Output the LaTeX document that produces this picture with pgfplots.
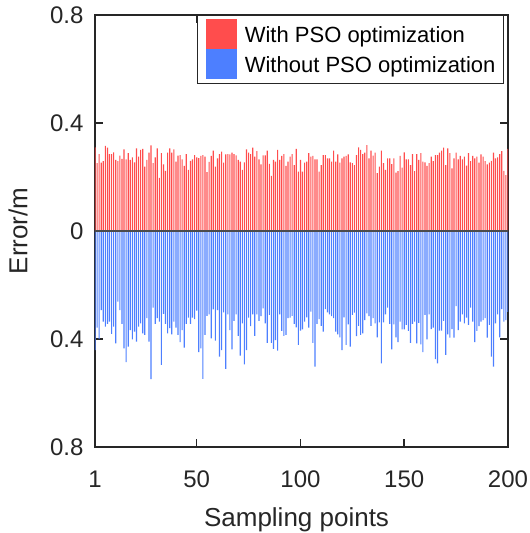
\documentclass[border=0pt]{standalone}
\usepackage{fontspec}
\setmainfont{Liberation Sans}
\usepackage{pgfplots}
\usepackage{pgfplotstable}
\pgfplotsset{compat=1.18}
\definecolor{pso}{RGB}{255,77,77}
\definecolor{nopso}{RGB}{77,127,255}
\definecolor{axgray}{RGB}{38,38,38}

\pgfplotstableread{
x r b
1 0.310 -0.441
2 0.251 -0.358
3 0.285 -0.400
4 0.253 -0.293
5 0.259 -0.336
6 0.315 -0.354
7 0.309 -0.344
8 0.285 -0.336
9 0.285 -0.381
10 0.291 -0.354
11 0.263 -0.416
12 0.259 -0.262
13 0.279 -0.293
14 0.267 -0.344
15 0.302 -0.435
16 0.265 -0.486
17 0.288 -0.428
18 0.263 -0.367
19 0.273 -0.401
20 0.254 -0.373
21 0.306 -0.410
22 0.275 -0.354
23 0.300 -0.342
24 0.304 -0.379
25 0.238 -0.385
26 0.263 -0.323
27 0.290 -0.410
28 0.317 -0.549
29 0.251 -0.284
30 0.273 -0.344
31 0.306 -0.323
32 0.197 -0.336
33 0.288 -0.496
34 0.247 -0.307
35 0.223 -0.344
36 0.290 -0.379
37 0.306 -0.360
38 0.290 -0.383
39 0.302 -0.336
40 0.257 -0.358
41 0.279 -0.385
42 0.281 -0.412
43 0.265 -0.367
44 0.241 -0.432
45 0.285 -0.344
46 0.226 -0.321
47 0.260 -0.344
48 0.265 -0.321
49 0.281 -0.326
50 0.273 -0.295
51 0.270 -0.449
52 0.278 -0.435
53 0.281 -0.548
54 0.275 -0.385
55 0.218 -0.314
56 0.256 -0.309
57 0.278 -0.398
58 0.298 -0.290
59 0.238 -0.406
60 0.269 -0.293
61 0.285 -0.465
62 0.294 -0.441
63 0.253 -0.301
64 0.284 -0.511
65 0.285 -0.309
66 0.284 -0.367
67 0.290 -0.438
68 0.285 -0.333
69 0.280 -0.309
70 0.263 -0.388
71 0.257 -0.462
72 0.226 -0.342
73 0.254 -0.494
74 0.302 -0.441
75 0.290 -0.321
76 0.285 -0.352
77 0.309 -0.309
78 0.275 -0.388
79 0.296 -0.309
80 0.265 -0.333
81 0.247 -0.315
82 0.280 -0.287
83 0.280 -0.342
84 0.298 -0.414
85 0.249 -0.311
86 0.204 -0.414
87 0.263 -0.437
88 0.257 -0.404
89 0.300 -0.443
90 0.263 -0.309
91 0.278 -0.370
92 0.285 -0.388
93 0.241 -0.385
94 0.257 -0.323
95 0.275 -0.321
96 0.285 -0.314
97 0.244 -0.344
98 0.304 -0.357
99 0.220 -0.422
100 0.263 -0.369
101 0.220 -0.364
102 0.253 -0.336
103 0.257 -0.320
104 0.288 -0.358
105 0.275 -0.299
106 0.278 -0.414
107 0.265 -0.502
108 0.265 -0.344
109 0.220 -0.326
110 0.244 -0.351
111 0.281 -0.373
112 0.281 -0.289
113 0.269 -0.301
114 0.269 -0.309
115 0.257 -0.315
116 0.298 -0.323
117 0.257 -0.373
118 0.284 -0.383
119 0.253 -0.394
120 0.269 -0.441
121 0.275 -0.320
122 0.278 -0.422
123 0.284 -0.346
124 0.254 -0.428
125 0.251 -0.311
126 0.244 -0.302
127 0.281 -0.389
128 0.310 -0.351
129 0.300 -0.385
130 0.285 -0.379
131 0.290 -0.330
132 0.318 -0.305
133 0.269 -0.315
134 0.298 -0.351
135 0.279 -0.323
136 0.290 -0.342
137 0.214 -0.394
138 0.238 -0.338
139 0.298 -0.490
140 0.251 -0.338
141 0.226 -0.309
142 0.269 -0.284
143 0.269 -0.344
144 0.248 -0.438
145 0.269 -0.346
146 0.216 -0.394
147 0.222 -0.412
148 0.278 -0.336
149 0.235 -0.364
150 0.291 -0.364
151 0.265 -0.348
152 0.265 -0.370
153 0.244 -0.414
154 0.285 -0.344
155 0.222 -0.336
156 0.285 -0.416
157 0.263 -0.340
158 0.288 -0.420
159 0.257 -0.449
160 0.254 -0.311
161 0.241 -0.401
162 0.251 -0.309
163 0.275 -0.363
164 0.259 -0.358
165 0.281 -0.475
166 0.281 -0.490
167 0.290 -0.369
168 0.298 -0.369
169 0.309 -0.333
170 0.244 -0.459
171 0.306 -0.383
172 0.288 -0.395
173 0.232 -0.363
174 0.269 -0.395
175 0.290 -0.278
176 0.265 -0.367
177 0.278 -0.336
178 0.265 -0.309
179 0.275 -0.342
180 0.242 -0.321
181 0.288 -0.348
182 0.259 -0.284
183 0.278 -0.336
184 0.269 -0.412
185 0.275 -0.370
186 0.253 -0.352
187 0.284 -0.336
188 0.275 -0.330
189 0.259 -0.323
190 0.247 -0.395
191 0.253 -0.348
192 0.260 -0.465
193 0.290 -0.502
194 0.269 -0.342
195 0.273 -0.309
196 0.285 -0.394
197 0.296 -0.289
198 0.223 -0.336
199 0.207 -0.330
200 0.304 -0.300
}\datatable

\begin{document}
\begin{tikzpicture}
\useasboundingbox (-95pt,-86pt) rectangle (435pt,447pt);
\begin{axis}[
  at={(0pt,0pt)}, anchor=south west,
  scale only axis, width=413pt, height=432pt,
  xmin=1, xmax=200, ymin=-0.8, ymax=0.8,
  ybar, bar width=0.55, bar shift=0pt,
  xtick={1,50,100,150,200},
  xticklabels={1,50,100,150,200},
  ytick={-0.8,-0.4,0,0.4,0.8},
  yticklabels={0.8,0.4,0,0.4,0.8},
  tick align=inside,
  xtick pos=both, ytick pos=both,
  major tick length=8pt,
  every tick/.style={axgray, line width=1.5pt},
  axis line style={axgray, line width=2pt},
  tick label style={font=\fontsize{24}{24}\selectfont, text=axgray},
  xticklabel style={yshift=-20pt},
  yticklabel style={xshift=-8pt},
  xlabel={Sampling points},
  ylabel={Error/m},
  every axis x label/.style={at={(axis description cs:0.488,-0.185)}, anchor=base,
    font=\fontsize{26}{26}\selectfont, text=axgray},
  every axis y label/.style={at={(axis description cs:-0.186,0.5)}, rotate=90, anchor=center,
    font=\fontsize{26}{26}\selectfont, text=axgray},
  legend image code/.code={\fill[#1] (0pt,-14pt) rectangle (31pt,16pt);},
  legend cell align=left,
  legend style={at={(1,1)}, anchor=north east, xshift=-4pt, draw=axgray, line width=1pt, fill=white,
    font=\fontsize{22}{22}\selectfont, text=black, inner xsep=8pt, inner ysep=4pt, row sep=0pt,
    nodes={inner sep=0pt},
    /tikz/every odd column/.style={column sep=8pt}},
]
\addplot[fill=pso, draw=none] table[x=x, y=r] {\datatable};
\addlegendentry{With PSO optimization}
\addplot[fill=nopso, draw=none] table[x=x, y=b] {\datatable};
\addlegendentry{Without PSO optimization}
\addplot[sharp plot, no marks, black!70, line width=1.5pt, forget plot] coordinates {(1,0) (200,0)};
\end{axis}
\end{tikzpicture}
\end{document}
